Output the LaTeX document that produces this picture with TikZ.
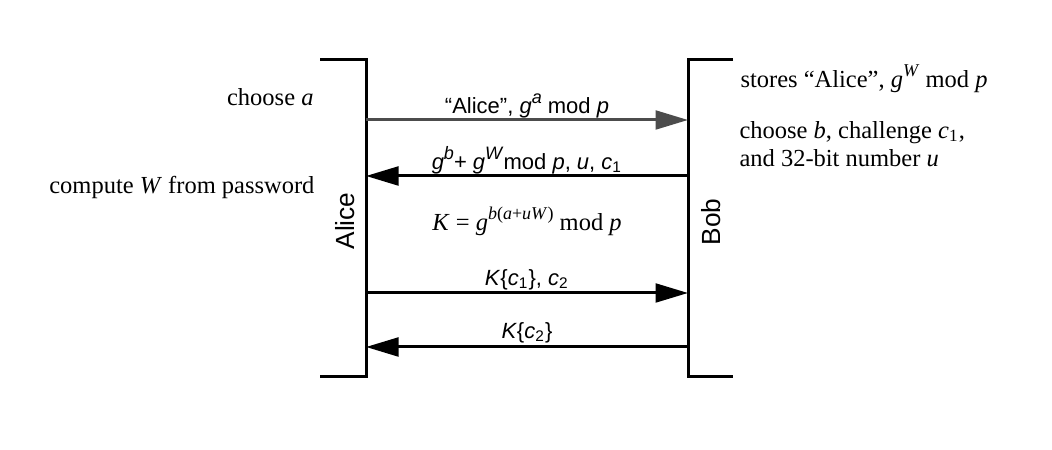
\documentclass[tikz,border=0pt]{standalone}
\usepackage{fontspec}
\setmainfont{Liberation Serif}
\newfontfamily\hv{Liberation Sans}
\usetikzlibrary{arrows.meta}
\newcommand{\upper}[1]{\raisebox{0.45em}{\fontsize{7.2}{8}\selectfont #1}}
\begin{document}
\begin{tikzpicture}[x=0.4pt,y=-0.4pt,
  life/.style={line width=1.2pt},
  msg/.style={line width=1.2pt,-{Triangle[length=13pt,width=7.5pt]}},
  msglight/.style={msg,draw=black!70},
  sanslbl/.style={font=\hv\fontsize{8.8}{10}\selectfont,inner sep=0pt},
  serlbl/.style={font=\fontsize{9.8}{11.5}\selectfont,inner sep=0pt},
  who/.style={font=\hv\fontsize{10.5}{12}\selectfont,rotate=90,inner sep=0pt}]
\useasboundingbox (0,0) rectangle (1052,450);
% lifelines
\coordinate (Atl) at (320,60); \coordinate (At) at (366,60);
\coordinate (Ab) at (366,377); \coordinate (Abl) at (320,377);
\coordinate (Btr) at (733,60); \coordinate (Bt) at (688,60);
\coordinate (Bb) at (688,377); \coordinate (Bbr) at (733,377);
\draw[life] (Atl) -- (At) -- (Ab) -- (Abl);
\draw[life] (Btr) -- (Bt) -- (Bb) -- (Bbr);
\node[who] (alice) at (345,221) {Alice};
\node[who] (bob) at (711,222) {Bob};
% message endpoints
\coordinate (A1) at (366,120); \coordinate (B1) at (688,120);
\coordinate (A2) at (366,176); \coordinate (B2) at (688,176);
\coordinate (A3) at (366,293); \coordinate (B3) at (688,293);
\coordinate (A4) at (366,347); \coordinate (B4) at (688,347);
\draw[msglight] (A1) -- (B1);
\draw[msg] (B2) -- (A2);
\draw[msg] (A3) -- (B3);
\draw[msg] (B4) -- (A4);
% message labels
\node[sanslbl] (m1) at (527,106) {“Alice”, \textit{g}\upper{\textit{a}} mod \textit{p}};
\node[sanslbl] (m2) at (527,160) {\textit{g}\upper{\textit{b}}+ \textit{g}\upper{\textit{W}}mod \textit{p}, \textit{u}, \textit{c}\textsubscript{1}};
\node[serlbl] (key) at (527,221) {\textit{K} = \textit{g}\upper{\textit{b}(\textit{a}+\textit{uW})} mod \textit{p}};
\node[sanslbl] (m3) at (527,280) {\textit{K}\{\textit{c}\textsubscript{1}\}, \textit{c}\textsubscript{2}};
\node[sanslbl] (m4) at (527,333) {\textit{K}\{\textit{c}\textsubscript{2}\}};
% side notes
\node[serlbl,anchor=east] (chA) at (314,97) {choose \textit{a}};
\node[serlbl,anchor=east] (compW) at (315,187) {compute \textit{W} from password};
\node[serlbl,anchor=west] (stores) at (740,79) {stores “Alice”, \textit{g}\upper{\textit{W}} mod \textit{p}};
\node[serlbl,anchor=west,align=left,font=\fontsize{9.8}{11.3}\selectfont] (chB) at (739,144) {choose \textit{b}, challenge \textit{c}\textsubscript{1},\\and 32-bit number \textit{u}};
\end{tikzpicture}
\end{document}
